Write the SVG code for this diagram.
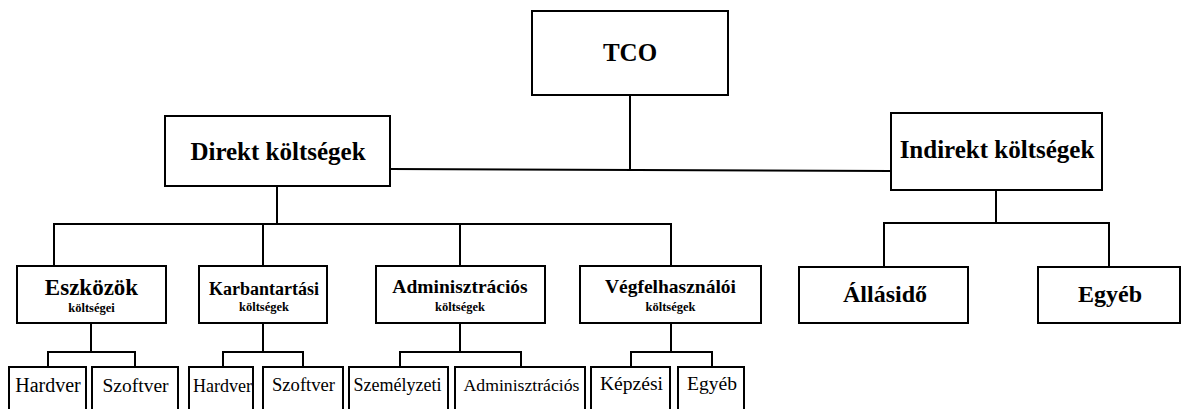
<svg xmlns="http://www.w3.org/2000/svg" width="1181" height="409" viewBox="0 0 1181 409">
<style>
rect{fill:#fff;stroke:#000;stroke-width:2}
.c path{fill:none;stroke:#000;stroke-width:2}
text{font-family:'Liberation Serif','Times New Roman','DejaVu Serif',serif;text-anchor:middle;fill:#000}
.b{font-weight:bold}
</style>
<rect x="0" y="0" width="1181" height="409" style="stroke:none"/>
<g class="c" id="connectors">
<path d="M630 95V169M390 169L891 171"/>
<path d="M277 186V224M54 266V224H671V266M263 224V266M460 224V266"/>
<path d="M996 190V223M884 267V223H1109V267"/>
<path d="M91 323V352M48 367V352H135V367"/>
<path d="M263 323V352M223 367V352H303V367"/>
<path d="M460 323V352M400 367V352H521V367"/>
<path d="M671 323V352M631 367V352H712V367"/>
</g>
<g id="tco"><rect x="532" y="11" width="196" height="84"/><text class="b" x="630" y="61" font-size="25" font-family="Liberation Serif, serif">TCO</text></g>
<g id="direkt"><rect x="165" y="116" width="225" height="70"/><text class="b" x="278" y="160" font-size="25">Direkt költségek</text></g>
<g id="indirekt"><rect x="891" y="113" width="211" height="77"/><text class="b" x="997" y="158" font-size="25">Indirekt költségek</text></g>
<g id="eszkozok"><rect x="17" y="266" width="149" height="57"/><text class="b" x="91.5" y="295" font-size="23">Eszközök</text><text class="b" x="91.5" y="312" font-size="12.5">költségei</text></g>
<g id="karbantartasi"><rect x="199" y="266" width="128" height="57"/><text class="b" x="264" y="295" font-size="18">Karbantartási</text><text class="b" x="264" y="311" font-size="12.5">költségek</text></g>
<g id="adminisztracios"><rect x="376" y="266" width="169" height="57"/><text class="b" x="460" y="293" font-size="19.5">Adminisztrációs</text><text class="b" x="460" y="311" font-size="12.5">költségek</text></g>
<g id="vegfelhasznaloi"><rect x="580" y="266" width="181" height="57"/><text class="b" x="670.5" y="293" font-size="19.5">Végfelhasználói</text><text class="b" x="670.5" y="311" font-size="12.5">költségek</text></g>
<g id="allasido"><rect x="799" y="267" width="169" height="56"/><text class="b" x="885" y="302" font-size="24">Állásidő</text></g>
<g id="egyeb1"><rect x="1038" y="267" width="142" height="56"/><text class="b" x="1110" y="302" font-size="24">Egyéb</text></g>
<g id="hardver1"><rect x="9" y="367" width="77" height="60"/><text x="48" y="392" font-size="20">Hardver</text></g>
<g id="szoftver1"><rect x="92" y="367" width="86" height="60"/><text x="135.5" y="392" font-size="19.5">Szoftver</text></g>
<g id="hardver2"><rect x="189" y="367" width="64" height="60"/><text x="222.5" y="392" font-size="18">Hardver</text></g>
<g id="szoftver2"><rect x="263" y="367" width="80" height="60"/><text x="303.5" y="391" font-size="18.6">Szoftver</text></g>
<g id="szemelyzeti"><rect x="349" y="367" width="99" height="60"/><text x="397.5" y="391" font-size="18">Személyzeti</text></g>
<g id="adminisztracios2"><rect x="455" y="367" width="130" height="60"/><text x="521.5" y="391" font-size="17.7">Adminisztrációs</text></g>
<g id="kepzesi"><rect x="591" y="367" width="79" height="60"/><text x="631.5" y="390" font-size="19.6">Képzési</text></g>
<g id="egyeb2"><rect x="678" y="367" width="66" height="60"/><text x="712" y="390" font-size="19.6">Egyéb</text></g>
</svg>
